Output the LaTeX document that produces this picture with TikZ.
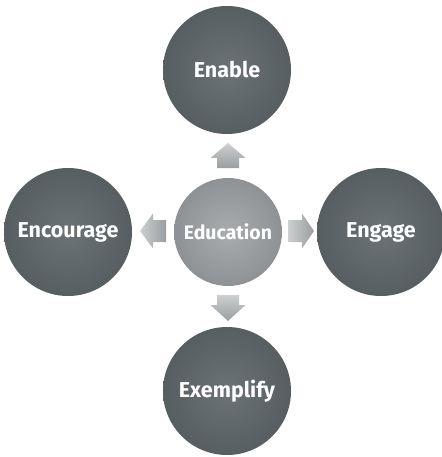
\documentclass[tikz,border=0pt]{standalone}
\usepackage{fontspec}
\setmainfont{Fira Sans}
\definecolor{outin}{HTML}{6C7376}
\definecolor{outout}{HTML}{575E61}
\definecolor{eduin}{HTML}{A9ACAE}
\definecolor{eduout}{HTML}{8E9294}
\definecolor{arrlight}{HTML}{CDCFD0}
\definecolor{arrdark}{HTML}{9A9EA0}
\begin{document}
\begin{tikzpicture}[x=1pt,y=-1pt,
  bigball/.style={circle, minimum size=128pt, inner sep=0pt,
    inner color=outin, outer color=outout, text=white,
    font=\bfseries\fontsize{21.5}{25}\selectfont},
  eduball/.style={circle, minimum size=108pt, inner sep=0pt,
    inner color=eduin, outer color=eduout, text=white,
    font=\bfseries\fontsize{19.5}{23}\selectfont},
  arrv/.style={top color=arrlight, bottom color=arrdark, draw=none},
  arrh/.style={left color=arrlight, right color=arrdark, draw=none}]
\useasboundingbox (0,0) rectangle (441,457);
\node[bigball] (enable) at (227,70) {Enable};
\node[bigball] (encourage) at (68,232) {Encourage};
\node[bigball] (engage) at (381,232) {Engage};
\node[bigball] (exemplify) at (227,391) {Exemplify};
\node[eduball] (education) at (228,232) {Education};
% up arrow
\shade[arrv] (228,143) -- (245.5,158) -- (239,158) -- (239,168) -- (217,168)
  -- (217,158) -- (210.5,158) -- cycle;
% down arrow
\shade[arrv] (228,321) -- (245.5,305) -- (239,305) -- (239,295) -- (217,295)
  -- (217,305) -- (210.5,305) -- cycle;
% left arrow
\shade[arrh] (140,231) -- (153,213.5) -- (153,220) -- (166,220) -- (166,242)
  -- (153,242) -- (153,248.5) -- cycle;
% right arrow
\shade[arrh] (314,231) -- (302,213.5) -- (302,220) -- (288,220) -- (288,242)
  -- (302,242) -- (302,248.5) -- cycle;
\end{tikzpicture}
\end{document}
